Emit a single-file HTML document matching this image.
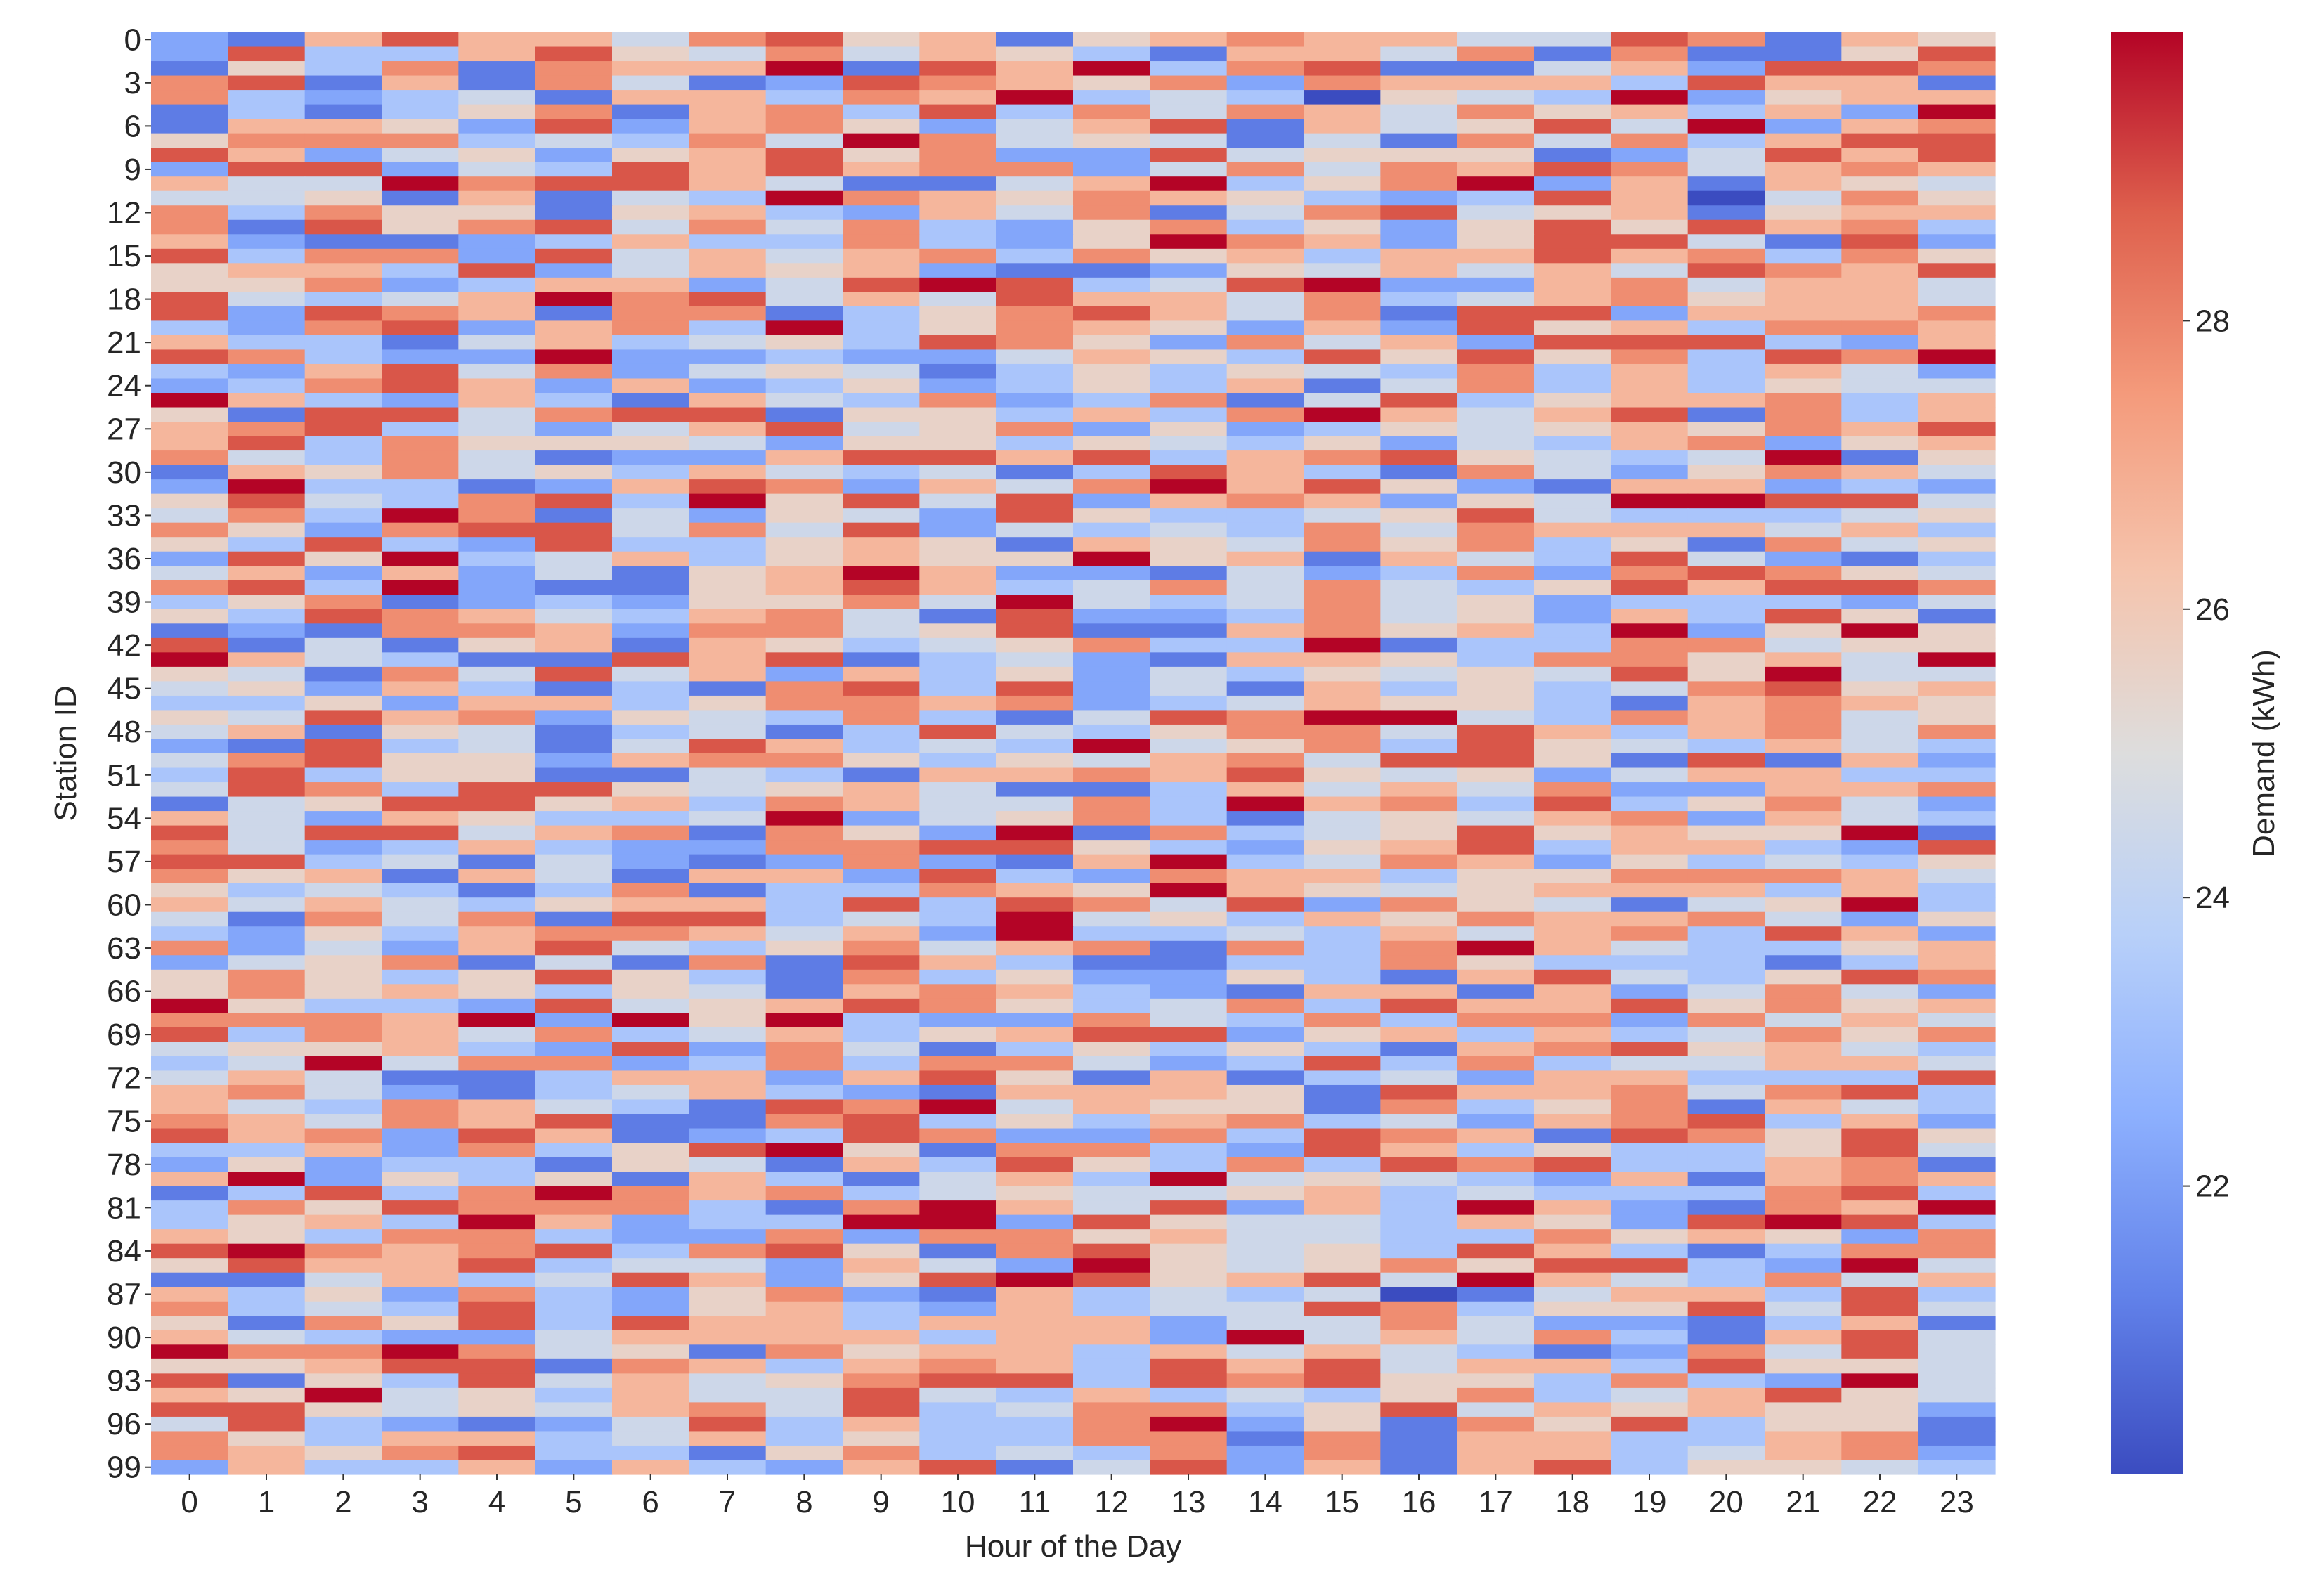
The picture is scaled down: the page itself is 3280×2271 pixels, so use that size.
<!DOCTYPE html>
<html><head><meta charset="utf-8"><style>
html,body{margin:0;padding:0;background:#fff;}
svg{display:block;font-family:"Liberation Sans","DejaVu Sans",sans-serif;}
</style></head><body>
<svg id="chart" width="3280" height="2271" viewBox="0 0 3280 2271" xmlns="http://www.w3.org/2000/svg">
<defs>
<linearGradient id="cbgrad" x1="0" y1="1" x2="0" y2="0">
<stop offset="0" stop-color="rgb(59,76,192)"/><stop offset="0.125" stop-color="rgb(98,130,234)"/><stop offset="0.25" stop-color="rgb(141,176,254)"/><stop offset="0.375" stop-color="rgb(184,208,249)"/><stop offset="0.5" stop-color="rgb(221,221,221)"/><stop offset="0.625" stop-color="rgb(245,196,173)"/><stop offset="0.75" stop-color="rgb(244,154,123)"/><stop offset="0.875" stop-color="rgb(222,96,77)"/><stop offset="1" stop-color="rgb(180,4,38)"/>
</linearGradient>
</defs>
<g id="cells"></g>
<g id="yticks"></g>
<g id="xticks"></g>
<text x="1527" y="2215" font-size="44" fill="#262626" text-anchor="middle">Hour of the Day</text>
<text x="0" y="0" font-size="44" fill="#262626" text-anchor="middle" transform="translate(108,1072) rotate(-90)">Station ID</text>
<rect x="3004" y="46" width="103" height="2052" fill="url(#cbgrad)"/>
<g id="cbticks"></g>
<text x="0" y="0" font-size="44" fill="#262626" text-anchor="middle" transform="translate(3236,1072) rotate(-90)">Demand (kWh)</text>
</svg>
<script>
const hours = [0,1,2,3,4,5,6,7,8,9,10,11,12,13,14,15,16,17,18,19,20,21,22,23];
const colorbarTicks = [22,24,26,28];
const vmin = 20, vmax = 30;
// Demand levels per station (row), one digit per hour; value = 20 + digit*10/9 (kWh)
const demandRows = [
"216866478561567664487165","283368547465316647171158","153717669186937811462887","781617412876572766638661",
"732341663769343054392566","131357167383747647563629","166528267524681645849267","577734374974541417473688",
"862452568572284555124868","288243868677247476874676","644978864114693579261654","445161439765765323860475",
"737551563264714784561566","718578474732573525858673","621123633732597625884182","837728464673756366867375",
"566382465621125464648768","557236624898348922674664","843469784648664734675664","828761771357864718826667",
"327826739357652628563776","633146345387527462888326","873229223224653858573879","326847245413535437363642",
"237862623523536147363544","963263164372371483566736","518847881553637964681736","678342468457252354565768",
"683755542553543524367256","743741226886836785434915","165745364341386317425764","293312687264796852166232",
"584378395848267625499884","473971425428533458433345","752788474824343747666463","538328335651654757351745",
"285934635655956164384213","462624156962214237278754","783921156863474743586887","357123255749434745233324",
"538764367418223745263851","121776277458116756392595","814156165345733913377455","964311868134216653775649",
"541748462635243545485944","452631317838241635347856","335266357767234655316765","548672543731487994376745",
"461541341384357748636747","218341486343945738543643",
"478552677535467488518162","383551143166768545246633","487388545641136464722667","145885637644739673835742",
"642653349245731454672643","848846717529173458565591","742363227788532568366328","883414212721693476253435",
"756164166283276635577764","534313713376596545666363","646435663838748275414593","417471883439453657667425",
"325367764629334364673862","724268435746717379643356","245714171863113375333136","575358531735225316843587",
"575653541676321661624742","953328456875347386685756","777692959322743737727464","837647346356882563634757",
"455632827413535316785643","349477237377423837344664","464113662685161342663338","674213463216665186674783",
"643764318794655173571643",
"764768117835367342678362","867286123872273876187585","336273589517732863533584","252331541638537387833671",
"692535163146394543261676","138379767345445634333783","375877731796482639621769","356396233992854436528983",
"653773227277564433756527","897678378517854538631377","586683442642954575883294","114634862589856849643746",
"635273257216343401466383","734383256326344873558484","517583866366624474221361","643224666636629464731684",
"977974517566364643127484","556881763676386846638554","815384645788387855373294","659453644843634357346854",
"885454674834773584656552","483212483633792517583551","753663463533771716633671","765783315734372716634672",
"263362632681482616835543"
];
const cellX0 = 215, cellY0 = 46, cellW = 2624, cellH = 2052;
const nCols = hours.length, nRows = demandRows.length;
const cw = cellW / nCols, rh = cellH / nRows;
function xScale(c){ return cellX0 + c * cw; }
function yScale(r){ return cellY0 + r * rh; }
function cbScale(v){ return 2098 - (v - vmin) / (vmax - vmin) * 2052; }
const cmap = [[59,76,192],[98,130,234],[141,176,254],[184,208,249],[221,221,221],[245,196,173],[244,154,123],[222,96,77],[180,4,38]];
function color(v){
  let t = Math.max(0, Math.min(1, (v - vmin) / (vmax - vmin))) * 8;
  let i = Math.min(7, Math.floor(t)), f = t - i;
  const a = cmap[i], b = cmap[i+1];
  return 'rgb(' + [0,1,2].map(k => Math.round(a[k] + (b[k]-a[k]) * f)).join(',') + ')';
}
const NS = 'http://www.w3.org/2000/svg';
const cells = document.getElementById('cells');
demandRows.forEach((row, r) => {
  for (let c = 0; c < nCols; c++) {
    const v = 20 + Number(row[c]) * 10 / 9;
    const el = document.createElementNS(NS, 'rect');
    
    
    el.setAttribute('x', xScale(c).toFixed(2));
    el.setAttribute('y', yScale(r).toFixed(2));
    el.setAttribute('width', (cw + 0.6).toFixed(2));
    el.setAttribute('height', (rh + 0.6).toFixed(2));
    el.setAttribute('fill', color(v));
    cells.appendChild(el);
  }
});
const yt = document.getElementById('yticks');
for (let r = 0; r < nRows; r += 3) {
  const y = yScale(r) + rh / 2;
  const t = document.createElementNS(NS, 'line');
  
  
  t.setAttribute('x1', cellX0 - 8); t.setAttribute('x2', cellX0);
  t.setAttribute('y1', y); t.setAttribute('y2', y);
  t.setAttribute('stroke', '#333'); t.setAttribute('stroke-width', '2');
  yt.appendChild(t);
  const tx = document.createElementNS(NS, 'text');
  
  
  tx.setAttribute('x', cellX0 - 14); tx.setAttribute('y', y + 15);
  tx.setAttribute('font-size', '44'); tx.setAttribute('fill', '#262626');
  tx.setAttribute('text-anchor', 'end');
  tx.textContent = String(r);
  yt.appendChild(tx);
}
const xt = document.getElementById('xticks');
hours.forEach((h, c) => {
  const x = xScale(c) + cw / 2;
  const t = document.createElementNS(NS, 'line');
  
  
  t.setAttribute('x1', x); t.setAttribute('x2', x);
  t.setAttribute('y1', cellY0 + cellH); t.setAttribute('y2', cellY0 + cellH + 8);
  t.setAttribute('stroke', '#333'); t.setAttribute('stroke-width', '2');
  xt.appendChild(t);
  const tx = document.createElementNS(NS, 'text');
  
  
  tx.setAttribute('x', x); tx.setAttribute('y', 2152);
  tx.setAttribute('font-size', '44'); tx.setAttribute('fill', '#262626');
  tx.setAttribute('text-anchor', 'middle');
  tx.textContent = String(h);
  xt.appendChild(tx);
});
const cbt = document.getElementById('cbticks');
colorbarTicks.forEach(v => {
  const y = cbScale(v);
  const t = document.createElementNS(NS, 'line');
  
  
  t.setAttribute('x1', 3107); t.setAttribute('x2', 3117);
  t.setAttribute('y1', y); t.setAttribute('y2', y);
  t.setAttribute('stroke', '#333'); t.setAttribute('stroke-width', '2');
  cbt.appendChild(t);
  const tx = document.createElementNS(NS, 'text');
  
  
  tx.setAttribute('x', 3124); tx.setAttribute('y', y + 15);
  tx.setAttribute('font-size', '44'); tx.setAttribute('fill', '#262626');
  tx.textContent = String(v);
  cbt.appendChild(tx);
});
</script>
</body></html>
